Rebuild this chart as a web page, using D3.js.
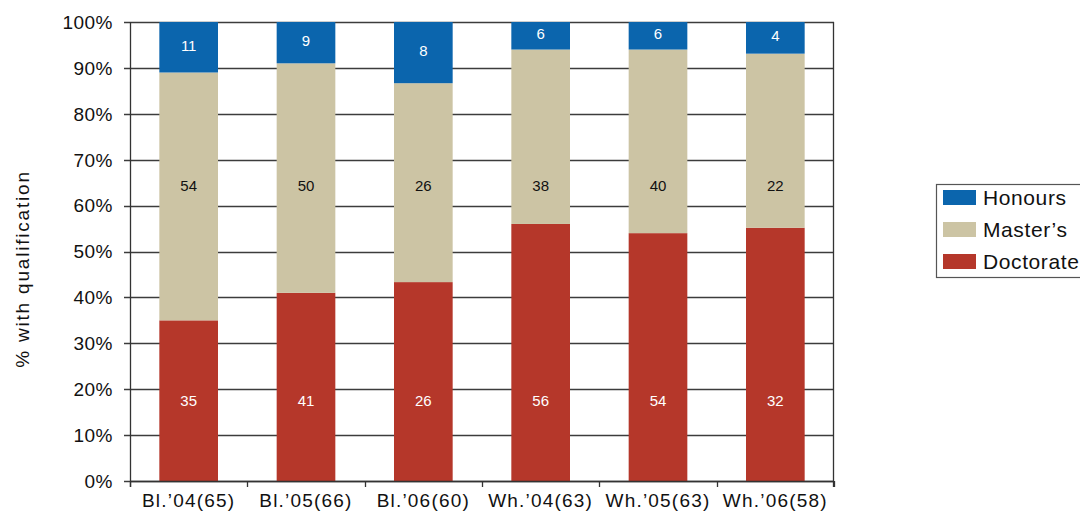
<!DOCTYPE html>
<html>
<head>
<meta charset="utf-8">
<script src="https://cdn.jsdelivr.net/npm/d3@7"></script>
<style>
  html, body { margin: 0; padding: 0; background: #fff; }
  svg { display: block; font-family: "Liberation Sans", Arial, Helvetica, sans-serif; }
</style>
</head>
<body>
<svg id="chart" width="1080" height="513"></svg>
<script>
// Qualification mix per cohort (labels as printed on the segments)
const categories = ["Bl.\u201904(65)", "Bl.\u201905(66)", "Bl.\u201906(60)", "Wh.\u201904(63)", "Wh.\u201905(63)", "Wh.\u201906(58)"];
const doctorate = [35, 41, 26, 56, 54, 32];
const masters   = [54, 50, 26, 38, 40, 22];
const honours   = [11, 9, 8, 6, 6, 4];
const seriesNames = ["Doctorate", "Master\u2019s", "Honours"];
const yTickValues = [0, 0.1, 0.2, 0.3, 0.4, 0.5, 0.6, 0.7, 0.8, 0.9, 1];

const colors = { "Honours": "#0b65ad", "Master\u2019s": "#ccc4a4", "Doctorate": "#b5372a" };

const svg = d3.select("#chart");
const plotLeft = 130, plotRight = 834, plotTop = 22, plotBottom = 481;

const rows = categories.map((c, i) => ({
  cat: c,
  "Doctorate": doctorate[i],
  "Master\u2019s": masters[i],
  "Honours": honours[i]
}));

// 100% stacked layout
const stacked = d3.stack().keys(seriesNames).offset(d3.stackOffsetExpand)(rows);

const x = d3.scaleBand().domain(categories).range([plotLeft, plotRight]).paddingInner(0.5).paddingOuter(0.25);
const y = d3.scaleLinear().domain([0, 1]).range([plotBottom, plotTop]);

// horizontal gridlines
svg.append("g").selectAll("line").data(yTickValues).join("line")
  .attr("x1", plotLeft - 6).attr("x2", plotRight)
  .attr("y1", d => Math.round(y(d)) + 0.5).attr("y2", d => Math.round(y(d)) + 0.5)
  .attr("stroke", "#3c3c3c").attr("stroke-width", 1.3);

// y tick labels
svg.append("g").selectAll("text").data(yTickValues).join("text")
  .attr("x", 113).attr("y", d => y(d)).attr("dy", "0.36em")
  .attr("text-anchor", "end").attr("font-size", 19).attr("letter-spacing", 0.5)
  .attr("fill", "#111")
  .text(d3.format(".0%"));

// bars
const layers = svg.append("g").selectAll("g").data(stacked).join("g")
  .attr("fill", d => colors[d.key]);
layers.selectAll("rect").data(d => d).join("rect")
  .attr("x", d => x(d.data.cat))
  .attr("width", x.bandwidth())
  .attr("y", d => y(d[1]))
  .attr("height", d => y(d[0]) - y(d[1]));

// segment value labels
const labelAnchor = { "Doctorate": () => 0.176, "Master\u2019s": () => 0.643, "Honours": d => (d[0] + d[1]) / 2 + 0.004 };
const labelColor = { "Doctorate": "#fff", "Master\u2019s": "#111", "Honours": "#fff" };
stacked.forEach(layer => {
  svg.append("g").selectAll("text").data(layer).join("text")
    .attr("x", d => x(d.data.cat) + x.bandwidth() / 2)
    .attr("y", d => y(labelAnchor[layer.key](d)))
    .attr("dy", "0.36em")
    .attr("text-anchor", "middle").attr("font-size", 15)
    .attr("fill", labelColor[layer.key])
    .text(d => d.data[layer.key]);
});

// axes frame: left axis, right edge, baseline
svg.append("line").attr("x1", plotLeft + 0.5).attr("x2", plotLeft + 0.5).attr("y1", plotTop).attr("y2", plotBottom + 6)
  .attr("stroke", "#333").attr("stroke-width", 1.3);
svg.append("line").attr("x1", plotRight - 0.5).attr("x2", plotRight - 0.5).attr("y1", plotTop).attr("y2", plotBottom + 6)
  .attr("stroke", "#333").attr("stroke-width", 1.3);
svg.append("line").attr("x1", plotLeft).attr("x2", plotRight).attr("y1", plotBottom + 0.5).attr("y2", plotBottom + 0.5)
  .attr("stroke", "#333").attr("stroke-width", 1.3);

// category boundary ticks
const boundaries = d3.range(categories.length + 1).map(i => plotLeft + i * (plotRight - plotLeft) / categories.length);
svg.append("g").selectAll("line").data(boundaries).join("line")
  .attr("x1", d => Math.round(d) + 0.5).attr("x2", d => Math.round(d) + 0.5)
  .attr("y1", plotBottom).attr("y2", plotBottom + 6)
  .attr("stroke", "#333").attr("stroke-width", 1.3);

// category labels
svg.append("g").selectAll("text").data(categories).join("text")
  .attr("x", d => x(d) + x.bandwidth() / 2).attr("y", 507)
  .attr("text-anchor", "middle").attr("font-size", 19).attr("letter-spacing", 1.2)
  .attr("fill", "#111")
  .text(d => d);

// y axis title
svg.append("text")
  .attr("transform", "translate(29,269) rotate(-90)")
  .attr("text-anchor", "middle").attr("font-size", 19).attr("letter-spacing", 1.8)
  .attr("fill", "#111")
  .text("% with qualification");

// legend
const legendItems = ["Honours", "Master\u2019s", "Doctorate"];
const legend = svg.append("g");
legend.append("rect").attr("x", 936.5).attr("y", 184.5).attr("width", 160).attr("height", 93)
  .attr("fill", "#fff").attr("stroke", "#555").attr("stroke-width", 1.2);
const li = legend.selectAll("g.item").data(legendItems).join("g")
  .attr("class", "item")
  .attr("transform", (d, i) => `translate(943,${190 + i * 32})`);
li.append("rect").attr("width", 33).attr("height", 15).attr("fill", d => colors[d]);
li.append("text").attr("x", 40).attr("y", 7.5).attr("dy", "0.36em")
  .attr("font-size", 21).attr("letter-spacing", 0.6).attr("fill", "#111")
  .text(d => d);
</script>
</body>
</html>
